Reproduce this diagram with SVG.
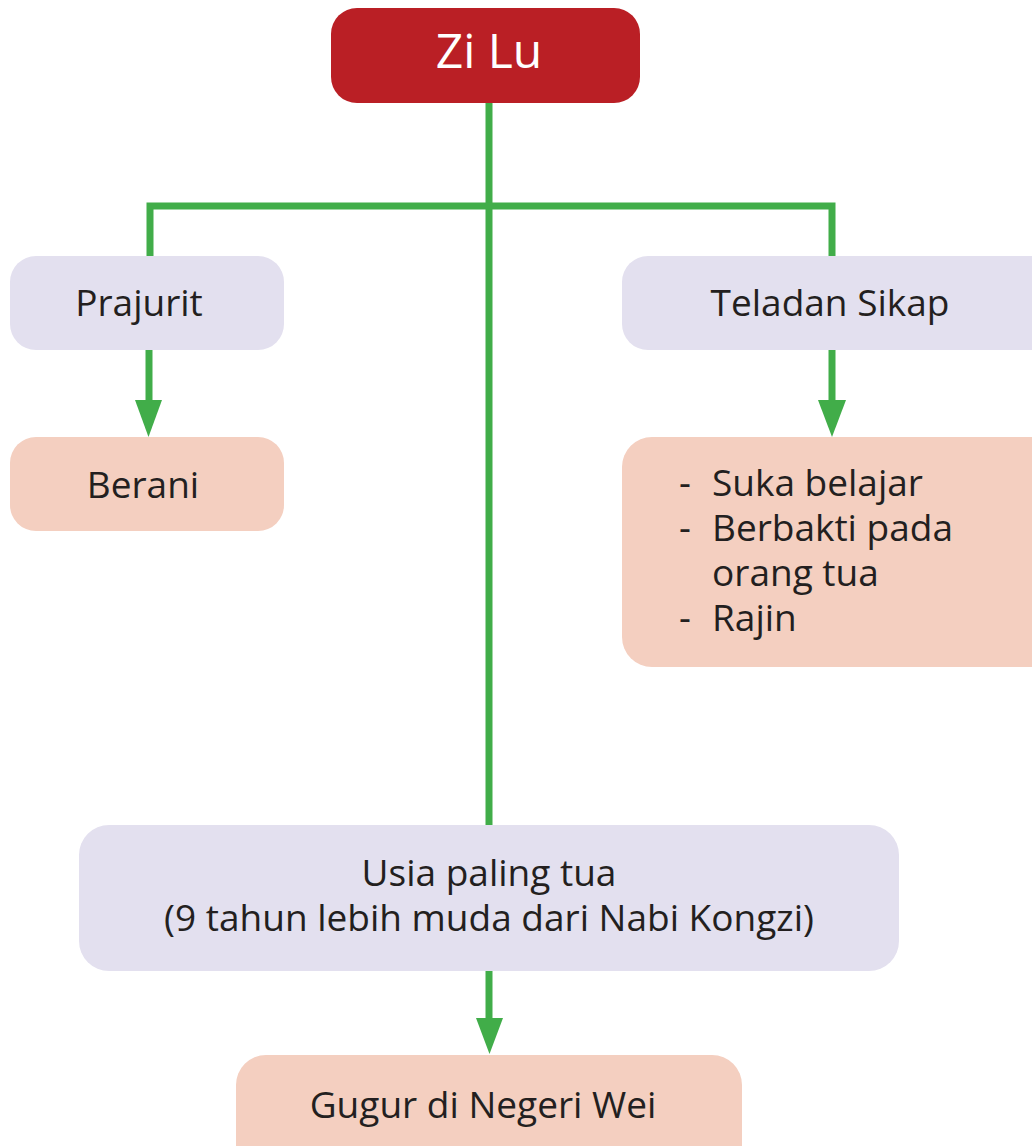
<svg xmlns="http://www.w3.org/2000/svg" width="1032" height="1146" viewBox="0 0 1032 1146">
<style>
.t{font-family:"Open Sans","Noto Sans",sans-serif;font-size:37px;fill:#231F20}
.c{text-anchor:middle}
.ln{stroke:#41AD49;stroke-width:7;fill:none}
.ah{fill:#41AD49}
.lav{fill:#E3E0EF}
.pch{fill:#F4CFC0}
</style>
<rect width="1032" height="1146" fill="#FFFFFF"/>
<g id="connectors">
<path class="ln" d="M489 103 V826"/>
<path class="ln" d="M150 257 V206 H832 V257"/>
<path class="ln" d="M149 350 V402"/>
<polygon class="ah" points="135,400 162,400 148.5,437"/>
<path class="ln" d="M832 350 V402"/>
<polygon class="ah" points="818,400 846,400 832,437"/>
<path class="ln" d="M489 971 V1020"/>
<polygon class="ah" points="476,1018 503,1018 489.5,1054"/>
</g>
<g id="zilu">
<rect x="331" y="8" width="309" height="95" rx="26" fill="#BA1F25"/>
<text class="t c" x="489" y="68" style="font-size:48px;fill:#FFFFFF">Zi Lu</text>
</g>
<g id="prajurit">
<rect class="lav" x="10" y="256" width="274" height="94" rx="26"/>
<text class="t c" x="139" y="316">Prajurit</text>
</g>
<g id="berani">
<rect class="pch" x="10" y="437" width="274" height="94" rx="26"/>
<text class="t c" x="143" y="498">Berani</text>
</g>
<g id="teladan">
<rect class="lav" x="622" y="256" width="440" height="94" rx="26"/>
<text class="t c" x="830" y="316">Teladan Sikap</text>
</g>
<g id="sikap">
<rect class="pch" x="622" y="437" width="440" height="230" rx="30"/>
<text class="t" x="679" y="496">-</text>
<text class="t" x="712" y="496">Suka belajar</text>
<text class="t" x="679" y="541">-</text>
<text class="t" x="712" y="541">Berbakti pada</text>
<text class="t" x="712" y="586">orang tua</text>
<text class="t" x="679" y="631">-</text>
<text class="t" x="712" y="631">Rajin</text>
</g>
<g id="usia">
<rect class="lav" x="79" y="825" width="820" height="146" rx="30"/>
<text class="t c" x="489" y="886">Usia paling tua</text>
<text class="t c" x="489" y="931">(9 tahun lebih muda dari Nabi Kongzi)</text>
</g>
<g id="gugur">
<rect class="pch" x="236" y="1055" width="506" height="120" rx="30"/>
<text class="t c" x="483" y="1118">Gugur di Negeri Wei</text>
</g>
</svg>
